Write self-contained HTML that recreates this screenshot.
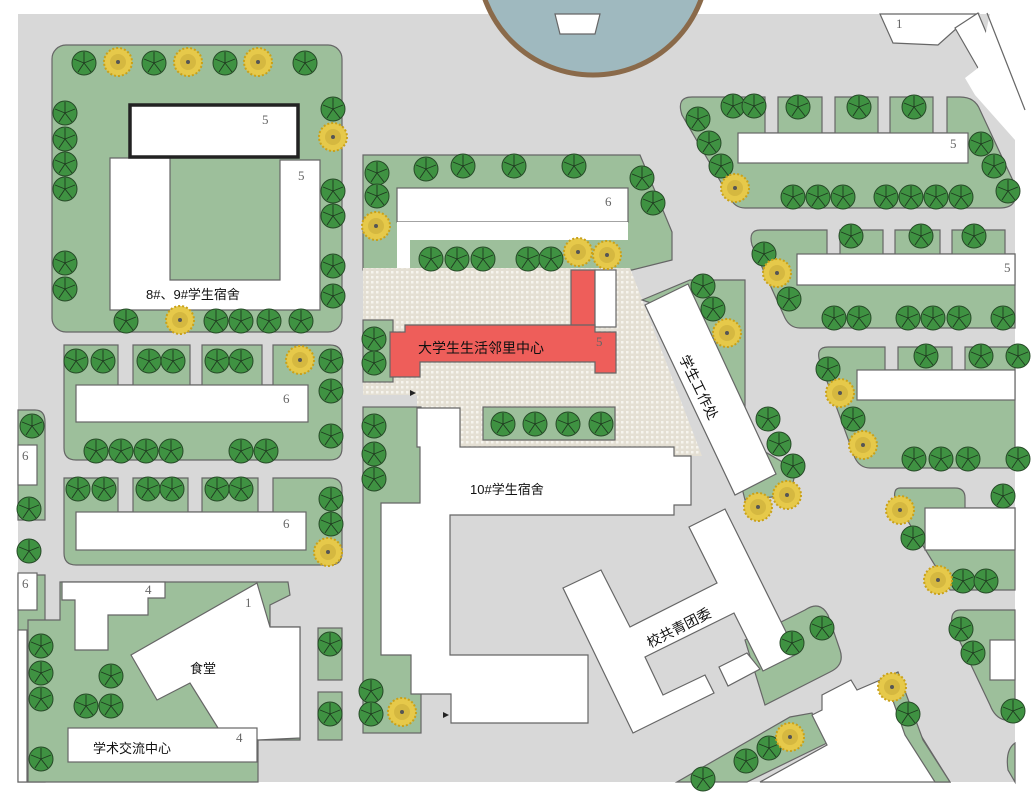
<!DOCTYPE html>
<html><head><meta charset="utf-8"><style>
html,body{margin:0;padding:0;background:#fff}
svg{display:block}
text{font-family:"Liberation Sans","Noto Sans CJK SC",sans-serif}
.n{font-family:"Liberation Serif",serif;font-size:13px;fill:#666}
</style></head><body>
<svg width="1032" height="795" viewBox="0 0 1032 795" xmlns="http://www.w3.org/2000/svg">
<defs>
<symbol id="t" viewBox="-13 -13 26 26" overflow="visible">
<circle r="12" fill="#3f9242" stroke="#274a28" stroke-width="1"/>
<g stroke="#1f3a20" stroke-width="0.9"><line x1="0" y1="0" x2="0" y2="-11"/><line x1="0" y1="0" x2="10" y2="-4"/><line x1="0" y1="0" x2="7" y2="9"/><line x1="0" y1="0" x2="-6" y2="9"/><line x1="0" y1="0" x2="-10" y2="-4"/></g>
</symbol>
<symbol id="y" viewBox="-16 -16 32 32" overflow="visible">
<circle r="14" fill="#e6c94a" stroke="#c9a11a" stroke-width="2" stroke-dasharray="2 2"/>
<circle r="8" fill="#c9ad3a" opacity=".6"/>
<circle r="2" fill="#555"/>
</symbol>
<pattern id="dots" width="5" height="5" patternUnits="userSpaceOnUse"><rect width="5" height="5" fill="#e4dfd3"/><rect x="1" y="1" width="2.5" height="2.5" fill="#f6f4ee"/></pattern>
</defs>
<rect width="1032" height="795" fill="#fff"/>
<rect x="18" y="14" width="997" height="768" fill="#d8d8d8"/>
<g stroke="#666" stroke-width="1.2">
<circle cx="593" cy="-40" r="115" fill="#9fb9bf" stroke="#8a6a4a" stroke-width="5"/>
<path d="M555,14 L600,14 L595,34 L560,34Z" fill="#fff"/>
<path d="M880,14 L978,14 L957,28 L938,45 L893,43Z" fill="#fff"/>
<path d="M955,28 L978,13 L997,58 L978,68Z" fill="#fff"/>
<path d="M978,68 L965,78 L975,95 L1015,140 L1015,14 L990,14Z" fill="#fff" stroke="none"/>
<line x1="987" y1="13" x2="1025" y2="110"/>
<rect x="52" y="45" width="290" height="287" rx="14" fill="#9dbf9b"/>
<path d="M110,158 L170,158 L170,280 L280,280 L280,160 L320,160 L320,310 L110,310Z" fill="#fff"/>
<rect x="130" y="105" width="168" height="52" fill="#fff" stroke="#222" stroke-width="3.5"/>
<path d="M64,345 L118,345 L118,385 L133,385 L133,345 L190,345 L190,385 L202,385 L202,345 L262,345 L262,385 L273,385 L273,345 L330,345 Q342,345 342,357 L342,448 Q342,460 330,460 L76,460 Q64,460 64,448Z" fill="#9dbf9b"/>
<rect x="76" y="385" width="232" height="37" fill="#fff"/>
<path d="M64,478 L118,478 L118,512 L133,512 L133,478 L188,478 L188,512 L202,512 L202,478 L258,478 L258,512 L273,512 L273,478 L330,478 Q342,478 342,490 L342,553 Q342,565 330,565 L76,565 Q64,565 64,553Z" fill="#9dbf9b"/>
<rect x="76" y="512" width="230" height="38" fill="#fff"/>
<path d="M18,410 L35,410 Q45,410 45,422 L45,520 L18,520Z" fill="#9dbf9b"/>
<rect x="18" y="445" width="19" height="40" fill="#fff"/>
<path d="M18,575 L45,575 L45,782 L18,782Z" fill="#9dbf9b"/>
<rect x="18" y="573" width="19" height="37" fill="#fff"/>
<rect x="18" y="630" width="9" height="152" fill="#fff"/>
<path d="M60,582 L288,582 L290,595 L270,605 L270,627 L300,627 L300,740 L258,740 L258,782 L28,782 L28,620 L60,620Z" fill="#9dbf9b"/>
<path d="M62,582 L165,582 L165,598 L148,598 L148,615 L108,615 L108,650 L75,650 L75,600 L62,600Z" fill="#fff"/>
<path d="M131,655 L257,583 L270,627 L300,627 L300,738 L258,740 L218,728 L190,683 L157,700Z" fill="#fff"/>
<rect x="68" y="728" width="189" height="34" fill="#fff"/>
<rect x="318" y="628" width="24" height="52" fill="#9dbf9b"/>
<rect x="318" y="692" width="24" height="48" fill="#9dbf9b"/>
<path d="M363,155 L640,155 L672,232 L672,260 L632,270 L363,270Z" fill="#9dbf9b"/>
<rect x="397" y="188" width="231" height="34" fill="#fff"/>
<path d="M397,222 L397,268 L410,268 L410,240 L628,240 L628,222Z" fill="#fff" stroke="none"/>
<path d="M363,268 L630,268 L702,456 L460,456 L460,408 L417,408 L417,395 L363,395Z" fill="url(#dots)" stroke="none"/>
<rect x="363" y="320" width="30" height="62" fill="#9dbf9b"/>
<rect x="483" y="407" width="132" height="33" fill="#9dbf9b"/>
<rect x="363" y="407" width="58" height="326" fill="#9dbf9b"/>
<path d="M417,408 L460,408 L460,447 L674,447 L674,456 L691,456 L691,505 L674,505 L674,515 L450,515 L450,655 L588,655 L588,723 L451,723 L451,694 L411,694 L411,655 L381,655 L381,503 L420,503 L420,447 L417,447Z" fill="#fff"/>
<rect x="571" y="270" width="24" height="57" fill="#ee5e5a"/>
<rect x="595" y="270" width="21" height="57" fill="#fff"/>
<path d="M390,332 L405,332 L405,325 L595,325 L595,332 L616,332 L616,373 L595,373 L595,362 L420,362 L420,377 L390,377Z" fill="#ee5e5a"/>
<path d="M642,300 L690,280 L745,280 L745,440 L796,470 L790,495 L745,500 L700,320Z" fill="#9dbf9b"/>
<path d="M645,305 L688,284 L776,474 L735,495Z" fill="#fff"/>
<path d="M805,610 Q820,600 828,615 L840,650 Q845,665 830,672 L765,705 L745,640Z" fill="#9dbf9b"/>
<path d="M563,588 L601,570 L630,627 L717,583 L689,527 L725,509 L797,654 L763,671 L734,613 L645,657 L663,695 L705,675 L714,693 L633,733Z" fill="#fff"/>
<path d="M719,667 L747,653 L760,669 L728,686Z" fill="#fff"/>
<path d="M692,97 L765,97 L765,133 L778,133 L778,97 L822,97 L822,133 L835,133 L835,97 L878,97 L878,133 L890,133 L890,97 L933,97 L933,133 L947,133 L947,97 L960,97 Q975,97 980,110 L1015,185 Q1020,208 1000,208 L745,208 Q735,208 730,198 L682,115 Q676,97 692,97Z" fill="#9dbf9b"/>
<rect x="738" y="133" width="230" height="30" fill="#fff"/>
<path d="M760,230 L827,230 L827,254 L840,254 L840,230 L883,230 L883,254 L895,254 L895,230 L940,230 L940,254 L952,254 L952,230 L1005,230 L1005,254 L1015,254 L1015,328 L800,328 Q790,328 785,318 L752,245 Q748,230 760,230Z" fill="#9dbf9b"/>
<rect x="797" y="254" width="218" height="31" fill="#fff"/>
<path d="M828,347 L885,347 L885,370 L898,370 L898,347 L952,347 L952,370 L965,370 L965,347 L1015,347 L1015,468 L870,468 Q860,468 855,458 L820,362 Q815,347 828,347Z" fill="#9dbf9b"/>
<rect x="857" y="370" width="158" height="30" fill="#fff"/>
<path d="M900,488 L955,488 Q965,488 965,498 L965,508 L1015,508 L1015,590 L950,590 L895,500 Q893,488 900,488Z" fill="#9dbf9b"/>
<rect x="925" y="508" width="90" height="42" fill="#fff"/>
<path d="M960,610 L1015,610 L1015,720 L1005,720 Q995,718 990,705 L952,625 Q950,610 960,610Z" fill="#9dbf9b"/>
<rect x="990" y="640" width="25" height="40" fill="#fff"/>
<path d="M1015,743 Q1005,750 1008,770 L1015,782Z" fill="#9dbf9b"/>
<path d="M677,782 L790,717 L812,713 L827,743 L747,782Z" fill="#9dbf9b"/>
<path d="M812,715 L822,710 L822,695 L851,680 L857,690 L885,678 L950,782 L760,782 L827,745Z" fill="#fff"/>
<path d="M885,678 L898,672 L923,740 L950,782 L935,782 L905,735Z" fill="#9dbf9b"/>
</g>
<g>
<use href="#t" x="71" y="50" width="26" height="26"/>
<use href="#t" x="141" y="50" width="26" height="26"/>
<use href="#t" x="212" y="50" width="26" height="26"/>
<use href="#t" x="292" y="50" width="26" height="26"/>
<use href="#t" x="52" y="100" width="26" height="26"/>
<use href="#t" x="52" y="126" width="26" height="26"/>
<use href="#t" x="52" y="151" width="26" height="26"/>
<use href="#t" x="52" y="176" width="26" height="26"/>
<use href="#t" x="52" y="250" width="26" height="26"/>
<use href="#t" x="52" y="276" width="26" height="26"/>
<use href="#t" x="320" y="96" width="26" height="26"/>
<use href="#t" x="320" y="178" width="26" height="26"/>
<use href="#t" x="320" y="203" width="26" height="26"/>
<use href="#t" x="320" y="253" width="26" height="26"/>
<use href="#t" x="320" y="283" width="26" height="26"/>
<use href="#t" x="113" y="308" width="26" height="26"/>
<use href="#t" x="203" y="308" width="26" height="26"/>
<use href="#t" x="228" y="308" width="26" height="26"/>
<use href="#t" x="256" y="308" width="26" height="26"/>
<use href="#t" x="288" y="308" width="26" height="26"/>
<use href="#t" x="63" y="348" width="26" height="26"/>
<use href="#t" x="90" y="348" width="26" height="26"/>
<use href="#t" x="136" y="348" width="26" height="26"/>
<use href="#t" x="160" y="348" width="26" height="26"/>
<use href="#t" x="204" y="348" width="26" height="26"/>
<use href="#t" x="228" y="348" width="26" height="26"/>
<use href="#t" x="318" y="348" width="26" height="26"/>
<use href="#t" x="318" y="378" width="26" height="26"/>
<use href="#t" x="318" y="423" width="26" height="26"/>
<use href="#t" x="83" y="438" width="26" height="26"/>
<use href="#t" x="108" y="438" width="26" height="26"/>
<use href="#t" x="133" y="438" width="26" height="26"/>
<use href="#t" x="158" y="438" width="26" height="26"/>
<use href="#t" x="228" y="438" width="26" height="26"/>
<use href="#t" x="253" y="438" width="26" height="26"/>
<use href="#t" x="65" y="476" width="26" height="26"/>
<use href="#t" x="91" y="476" width="26" height="26"/>
<use href="#t" x="135" y="476" width="26" height="26"/>
<use href="#t" x="159" y="476" width="26" height="26"/>
<use href="#t" x="204" y="476" width="26" height="26"/>
<use href="#t" x="228" y="476" width="26" height="26"/>
<use href="#t" x="318" y="486" width="26" height="26"/>
<use href="#t" x="318" y="511" width="26" height="26"/>
<use href="#t" x="19" y="413" width="26" height="26"/>
<use href="#t" x="16" y="496" width="26" height="26"/>
<use href="#t" x="16" y="538" width="26" height="26"/>
<use href="#t" x="28" y="633" width="26" height="26"/>
<use href="#t" x="28" y="660" width="26" height="26"/>
<use href="#t" x="28" y="686" width="26" height="26"/>
<use href="#t" x="28" y="746" width="26" height="26"/>
<use href="#t" x="98" y="663" width="26" height="26"/>
<use href="#t" x="73" y="693" width="26" height="26"/>
<use href="#t" x="98" y="693" width="26" height="26"/>
<use href="#t" x="317" y="631" width="26" height="26"/>
<use href="#t" x="317" y="701" width="26" height="26"/>
<use href="#t" x="361" y="413" width="26" height="26"/>
<use href="#t" x="361" y="441" width="26" height="26"/>
<use href="#t" x="361" y="466" width="26" height="26"/>
<use href="#t" x="358" y="678" width="26" height="26"/>
<use href="#t" x="358" y="701" width="26" height="26"/>
<use href="#t" x="361" y="326" width="26" height="26"/>
<use href="#t" x="361" y="350" width="26" height="26"/>
<use href="#t" x="490" y="411" width="26" height="26"/>
<use href="#t" x="522" y="411" width="26" height="26"/>
<use href="#t" x="555" y="411" width="26" height="26"/>
<use href="#t" x="588" y="411" width="26" height="26"/>
<use href="#t" x="364" y="160" width="26" height="26"/>
<use href="#t" x="413" y="156" width="26" height="26"/>
<use href="#t" x="450" y="153" width="26" height="26"/>
<use href="#t" x="501" y="153" width="26" height="26"/>
<use href="#t" x="561" y="153" width="26" height="26"/>
<use href="#t" x="629" y="165" width="26" height="26"/>
<use href="#t" x="364" y="183" width="26" height="26"/>
<use href="#t" x="640" y="190" width="26" height="26"/>
<use href="#t" x="418" y="246" width="26" height="26"/>
<use href="#t" x="444" y="246" width="26" height="26"/>
<use href="#t" x="470" y="246" width="26" height="26"/>
<use href="#t" x="515" y="246" width="26" height="26"/>
<use href="#t" x="538" y="246" width="26" height="26"/>
<use href="#t" x="690" y="273" width="26" height="26"/>
<use href="#t" x="700" y="296" width="26" height="26"/>
<use href="#t" x="755" y="406" width="26" height="26"/>
<use href="#t" x="766" y="431" width="26" height="26"/>
<use href="#t" x="780" y="453" width="26" height="26"/>
<use href="#t" x="720" y="93" width="26" height="26"/>
<use href="#t" x="741" y="93" width="26" height="26"/>
<use href="#t" x="685" y="106" width="26" height="26"/>
<use href="#t" x="696" y="130" width="26" height="26"/>
<use href="#t" x="708" y="153" width="26" height="26"/>
<use href="#t" x="785" y="94" width="26" height="26"/>
<use href="#t" x="846" y="94" width="26" height="26"/>
<use href="#t" x="901" y="94" width="26" height="26"/>
<use href="#t" x="780" y="184" width="26" height="26"/>
<use href="#t" x="805" y="184" width="26" height="26"/>
<use href="#t" x="830" y="184" width="26" height="26"/>
<use href="#t" x="873" y="184" width="26" height="26"/>
<use href="#t" x="898" y="184" width="26" height="26"/>
<use href="#t" x="923" y="184" width="26" height="26"/>
<use href="#t" x="948" y="184" width="26" height="26"/>
<use href="#t" x="968" y="131" width="26" height="26"/>
<use href="#t" x="981" y="153" width="26" height="26"/>
<use href="#t" x="995" y="178" width="26" height="26"/>
<use href="#t" x="838" y="223" width="26" height="26"/>
<use href="#t" x="908" y="223" width="26" height="26"/>
<use href="#t" x="961" y="223" width="26" height="26"/>
<use href="#t" x="751" y="241" width="26" height="26"/>
<use href="#t" x="776" y="286" width="26" height="26"/>
<use href="#t" x="821" y="305" width="26" height="26"/>
<use href="#t" x="846" y="305" width="26" height="26"/>
<use href="#t" x="895" y="305" width="26" height="26"/>
<use href="#t" x="920" y="305" width="26" height="26"/>
<use href="#t" x="946" y="305" width="26" height="26"/>
<use href="#t" x="990" y="305" width="26" height="26"/>
<use href="#t" x="815" y="356" width="26" height="26"/>
<use href="#t" x="913" y="343" width="26" height="26"/>
<use href="#t" x="968" y="343" width="26" height="26"/>
<use href="#t" x="1005" y="343" width="26" height="26"/>
<use href="#t" x="840" y="406" width="26" height="26"/>
<use href="#t" x="901" y="446" width="26" height="26"/>
<use href="#t" x="928" y="446" width="26" height="26"/>
<use href="#t" x="955" y="446" width="26" height="26"/>
<use href="#t" x="1005" y="446" width="26" height="26"/>
<use href="#t" x="900" y="525" width="26" height="26"/>
<use href="#t" x="950" y="568" width="26" height="26"/>
<use href="#t" x="973" y="568" width="26" height="26"/>
<use href="#t" x="990" y="483" width="26" height="26"/>
<use href="#t" x="948" y="616" width="26" height="26"/>
<use href="#t" x="960" y="640" width="26" height="26"/>
<use href="#t" x="1000" y="698" width="26" height="26"/>
<use href="#t" x="809" y="615" width="26" height="26"/>
<use href="#t" x="779" y="630" width="26" height="26"/>
<use href="#t" x="895" y="701" width="26" height="26"/>
<use href="#t" x="756" y="735" width="26" height="26"/>
<use href="#t" x="733" y="748" width="26" height="26"/>
<use href="#t" x="690" y="766" width="26" height="26"/>
</g>
<g>
<use href="#y" x="102" y="46" width="32" height="32"/>
<use href="#y" x="172" y="46" width="32" height="32"/>
<use href="#y" x="242" y="46" width="32" height="32"/>
<use href="#y" x="317" y="121" width="32" height="32"/>
<use href="#y" x="164" y="304" width="32" height="32"/>
<use href="#y" x="284" y="344" width="32" height="32"/>
<use href="#y" x="312" y="536" width="32" height="32"/>
<use href="#y" x="360" y="210" width="32" height="32"/>
<use href="#y" x="562" y="236" width="32" height="32"/>
<use href="#y" x="591" y="239" width="32" height="32"/>
<use href="#y" x="386" y="696" width="32" height="32"/>
<use href="#y" x="711" y="317" width="32" height="32"/>
<use href="#y" x="742" y="491" width="32" height="32"/>
<use href="#y" x="771" y="479" width="32" height="32"/>
<use href="#y" x="719" y="172" width="32" height="32"/>
<use href="#y" x="761" y="257" width="32" height="32"/>
<use href="#y" x="824" y="377" width="32" height="32"/>
<use href="#y" x="847" y="429" width="32" height="32"/>
<use href="#y" x="884" y="494" width="32" height="32"/>
<use href="#y" x="922" y="564" width="32" height="32"/>
<use href="#y" x="876" y="671" width="32" height="32"/>
<use href="#y" x="774" y="721" width="32" height="32"/>
</g>
<text class="n" x="262" y="124">5</text>
<text class="n" x="298" y="180">5</text>
<text class="n" x="283" y="403">6</text>
<text class="n" x="283" y="528">6</text>
<text class="n" x="22" y="460">6</text>
<text class="n" x="22" y="588">6</text>
<text class="n" x="145" y="594">4</text>
<text class="n" x="245" y="607">1</text>
<text class="n" x="236" y="742">4</text>
<text class="n" x="605" y="206">6</text>
<text class="n" x="596" y="346">5</text>
<text class="n" x="950" y="148">5</text>
<text class="n" x="1004" y="272">5</text>
<text class="n" x="896" y="28">1</text>
<g font-size="13" fill="#111">
<text x="146" y="299">8#、9#学生宿舍</text>
<text x="418" y="353" font-size="14">大学生生活邻里中心</text>
<text x="470" y="494">10#学生宿舍</text>
<text x="190" y="673">食堂</text>
<text x="93" y="753">学术交流中心</text>
<text transform="translate(650,648) rotate(-27)" font-size="14">校共青团委</text>
<text transform="translate(679,358) rotate(64)" font-size="14">学生工作处</text>
</g>
<path d="M410,390 L416,393 L410,396Z" fill="#222"/>
<path d="M443,712 L449,715 L443,718Z" fill="#222"/>
</svg>
</body></html>
